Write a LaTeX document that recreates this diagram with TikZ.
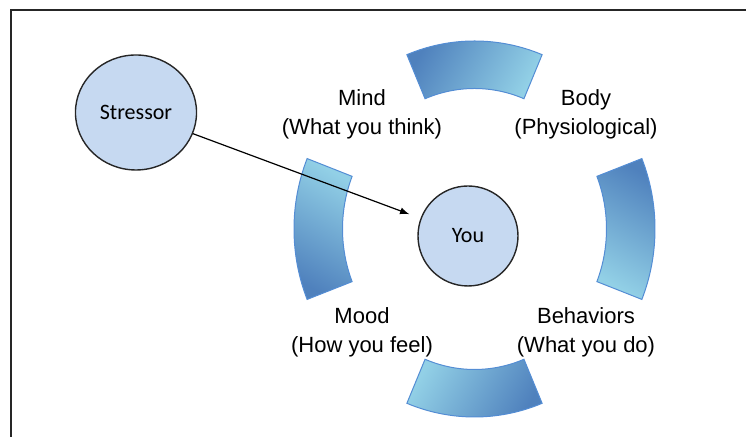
\documentclass[tikz,border=0pt]{standalone}
\usepackage{fontspec}
\setmainfont{Liberation Sans}
\newfontfamily\calibri{Carlito}
\usetikzlibrary{arrows,shapes.geometric,calc}

\definecolor{ringdark}{RGB}{79,129,189}
\definecolor{ringlight}{RGB}{146,208,230}
\definecolor{ringline}{RGB}{84,141,212}
\definecolor{nodefill}{RGB}{198,217,241}

\begin{document}
\begin{tikzpicture}[x=0.5pt, y=0.5pt,
  blob/.style={draw=black!85, line width=0.7pt, fill=nodefill, font=\calibri\fontsize{11}{13}\selectfont},
  lbl/.style={align=center, font=\fontsize{11}{14.5}\selectfont},
  seg/.style={draw=ringline, line width=0.5pt, top color=ringdark, bottom color=ringlight}]
 \useasboundingbox (0,0) rectangle (746,437);
 \draw[line width=1.1pt, black!85] (11,0) -- (11,427) -- (746,427);
 \coordinate (c) at (474.5,208);
 % the four pieces of the ring
 \foreach \a in {0,90,180,270}
  \path[seg, shading angle=\a-30]
   ($(c)+(\a-22:180.5 and 188)$) arc[start angle=\a-22, end angle=\a+22, x radius=180.5, y radius=188]
   -- ($(c)+(\a+22:132 and 140.5)$) arc[start angle=\a+22, end angle=\a-22, x radius=132, y radius=140.5] -- cycle;

 \node[blob, ellipse, minimum width=55pt, minimum height=57.5pt] (stressor) at (136,324.5) {Stressor};
 \node[blob, circle, minimum size=50pt] (you) at (468,201) {You};

 \node[lbl] (mind) at (362,323) {Mind\\(What you think)};
 \node[lbl] (body) at (586,323) {Body\\(Physiological)};
 \node[lbl] (mood) at (362,105) {Mood\\(How you feel)};
 \node[lbl] (behav) at (586,105) {Behaviors\\(What you do)};

 \draw[-latex, line width=0.6pt, shorten >=6pt] (stressor) -- (you);
\end{tikzpicture}
\end{document}
